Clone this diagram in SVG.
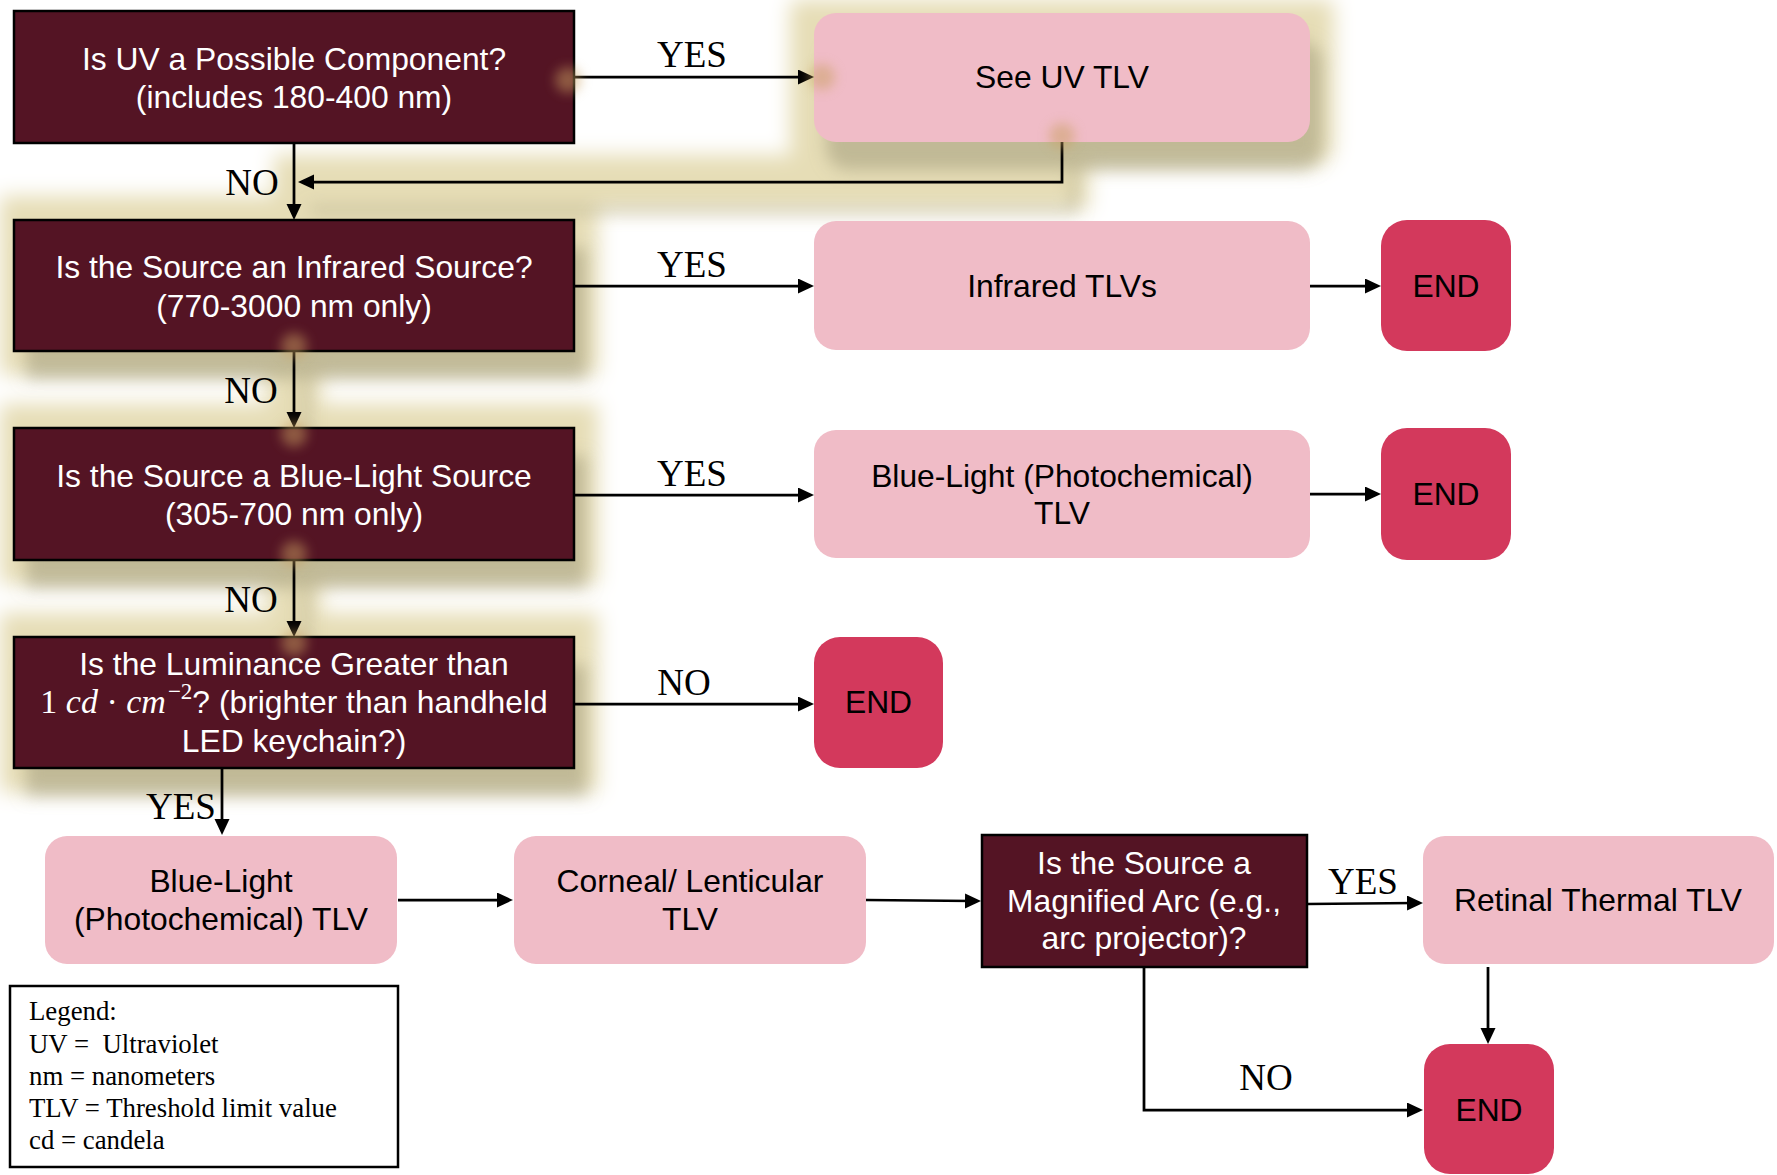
<svg xmlns="http://www.w3.org/2000/svg" width="1777" height="1175" viewBox="0 0 1777 1175">
<defs>
<style>
.dark{fill:#541424;stroke:#000;stroke-width:2.5}
.pink{fill:#F0BCC7}
.end{fill:#D3395C}
.wt{font-family:"Liberation Sans",Arial,sans-serif;font-size:31.8px;fill:#fff;text-anchor:middle}
.bt{font-family:"Liberation Sans",Arial,sans-serif;font-size:31.8px;fill:#000;text-anchor:middle}
.lbl{font-family:"Liberation Serif","Times New Roman",serif;font-size:37px;fill:#000;text-anchor:middle}
.leg{font-family:"Liberation Serif","Times New Roman",serif;font-size:26.8px;fill:#000}
.math{font-family:"Liberation Serif","Times New Roman",serif}
.con{fill:none;stroke:#000;stroke-width:2.75}
</style>
<marker id="arr" markerUnits="userSpaceOnUse" markerWidth="18" markerHeight="16" refX="8" refY="7.5" orient="auto">
<path d="M0,0 L16,7.5 L0,15 Z" fill="#000"/>
</marker>
<filter id="glow" filterUnits="userSpaceOnUse" x="0" y="0" width="1777" height="1175" color-interpolation-filters="sRGB">
<feMorphology in="SourceAlpha" operator="dilate" radius="24" result="d"/>
<feGaussianBlur in="d" stdDeviation="10" result="b"/>
<feFlood flood-color="#E6DDB6" result="c"/>
<feComposite in="c" in2="b" operator="in" result="g"/>
<feOffset in="SourceAlpha" dx="12" dy="28" result="o"/>
<feGaussianBlur in="o" stdDeviation="8" result="ob"/>
<feFlood flood-color="#9C9676" flood-opacity="0.5"/>
<feComposite in2="ob" operator="in" result="s"/>
<feMerge><feMergeNode in="g"/><feMergeNode in="s"/></feMerge>
</filter>
<filter id="spot" x="-100%" y="-100%" width="300%" height="300%">
<feGaussianBlur stdDeviation="6"/>
</filter>
</defs>
<rect x="0" y="0" width="1777" height="1175" fill="#fff"/>

<g id="glow-layer" filter="url(#glow)" fill="#000">
<rect x="814" y="13" width="496" height="129" rx="22"/>
<rect x="14" y="220" width="560" height="131"/>
<rect x="14" y="428" width="560" height="132"/>
<rect x="14" y="637" width="560" height="131"/>
<path d="M1062,142 V182 H298" fill="none" stroke="#000" stroke-width="6"/>
<path d="M294,351 V428 M294,560 V637" fill="none" stroke="#000" stroke-width="6"/>
</g>

<g id="connectors">
<path class="con" d="M574,77 H806" marker-end="url(#arr)"/>
<path class="con" d="M294,143 V212" marker-end="url(#arr)"/>
<path class="con" d="M1062,142 V182 H306" marker-end="url(#arr)"/>
<path class="con" d="M574,286 H806" marker-end="url(#arr)"/>
<path class="con" d="M1310,286 H1373" marker-end="url(#arr)"/>
<path class="con" d="M294,351 V420" marker-end="url(#arr)"/>
<path class="con" d="M574,495 H806" marker-end="url(#arr)"/>
<path class="con" d="M1310,494 H1373" marker-end="url(#arr)"/>
<path class="con" d="M294,560 V629" marker-end="url(#arr)"/>
<path class="con" d="M574,704 H806" marker-end="url(#arr)"/>
<path class="con" d="M222,768 V827" marker-end="url(#arr)"/>
<path class="con" d="M398,900 H505" marker-end="url(#arr)"/>
<path class="con" d="M866,900 L973,901" marker-end="url(#arr)"/>
<path class="con" d="M1307,904 L1415,903" marker-end="url(#arr)"/>
<path class="con" d="M1488,967 V1036" marker-end="url(#arr)"/>
<path class="con" d="M1144,967 V1110 H1415" marker-end="url(#arr)"/>
<text class="lbl" x="692" y="67">YES</text>
<text class="lbl" x="252" y="195">NO</text>
<text class="lbl" x="692" y="277">YES</text>
<text class="lbl" x="251" y="403">NO</text>
<text class="lbl" x="692" y="486">YES</text>
<text class="lbl" x="251" y="612">NO</text>
<text class="lbl" x="684" y="695">NO</text>
<text class="lbl" x="181" y="819">YES</text>
<text class="lbl" x="1363" y="894">YES</text>
<text class="lbl" x="1266" y="1090">NO</text>
</g>

<g id="q-uv">
<rect class="dark" x="14" y="11" width="560" height="132"/>
<text class="wt" x="294" y="70">Is UV a Possible Component?</text>
<text class="wt" x="294" y="108">(includes 180-400 nm)</text>
</g>
<g id="see-uv">
<rect class="pink" x="814" y="13" width="496" height="129" rx="22"/>
<text class="bt" x="1062" y="88">See UV TLV</text>
</g>
<g id="q-ir">
<rect class="dark" x="14" y="220" width="560" height="131"/>
<text class="wt" x="294" y="278">Is the Source an Infrared Source?</text>
<text class="wt" x="294" y="317">(770-3000 nm only)</text>
</g>
<g id="ir-tlv">
<rect class="pink" x="814" y="221" width="496" height="129" rx="22"/>
<text class="bt" x="1062" y="297">Infrared TLVs</text>
</g>
<g id="end1">
<rect class="end" x="1381" y="220" width="130" height="131" rx="26"/>
<text class="bt" x="1446" y="297">END</text>
</g>
<g id="q-blue">
<rect class="dark" x="14" y="428" width="560" height="132"/>
<text class="wt" x="294" y="487">Is the Source a Blue-Light Source</text>
<text class="wt" x="294" y="525">(305-700 nm only)</text>
</g>
<g id="blue-tlv">
<rect class="pink" x="814" y="430" width="496" height="128" rx="22"/>
<text class="bt" x="1062" y="487">Blue-Light (Photochemical)</text>
<text class="bt" x="1062" y="524">TLV</text>
</g>
<g id="end2">
<rect class="end" x="1381" y="428" width="130" height="132" rx="26"/>
<text class="bt" x="1446" y="505">END</text>
</g>
<g id="q-lum">
<rect class="dark" x="14" y="637" width="560" height="131"/>
<text class="wt" x="294" y="675">Is the Luminance Greater than</text>
<text class="wt" x="294" y="713"><tspan class="math" font-size="34">1 </tspan><tspan class="math" font-size="34" font-style="italic">cd</tspan><tspan class="math" font-size="34"> · </tspan><tspan class="math" font-size="34" font-style="italic">cm</tspan><tspan class="math" font-size="23" dx="2" dy="-14">−2</tspan><tspan dy="14">? (brighter than handheld</tspan></text>
<text class="wt" x="294" y="752">LED keychain?)</text>
</g>
<g id="end3">
<rect class="end" x="814" y="637" width="129" height="131" rx="26"/>
<text class="bt" x="878.5" y="713">END</text>
</g>
<g id="blue-tlv-2">
<rect class="pink" x="45" y="836" width="352" height="128" rx="22"/>
<text class="bt" x="221" y="892">Blue-Light</text>
<text class="bt" x="221" y="930">(Photochemical) TLV</text>
</g>
<g id="corneal">
<rect class="pink" x="514" y="836" width="352" height="128" rx="22"/>
<text class="bt" x="690" y="892">Corneal/ Lenticular</text>
<text class="bt" x="690" y="930">TLV</text>
</g>
<g id="q-arc">
<rect class="dark" x="982" y="835" width="325" height="132"/>
<text class="wt" x="1144" y="874">Is the Source a</text>
<text class="wt" x="1144" y="912">Magnified Arc (e.g.,</text>
<text class="wt" x="1144" y="949">arc projector)?</text>
</g>
<g id="retinal">
<rect class="pink" x="1423" y="836" width="351" height="128" rx="22"/>
<text class="bt" x="1598" y="911">Retinal Thermal TLV</text>
</g>
<g id="end4">
<rect class="end" x="1424" y="1044" width="130" height="130" rx="26"/>
<text class="bt" x="1489" y="1121">END</text>
</g>

<g id="spots" filter="url(#spot)" fill="#C9A060" opacity="0.5">
<circle cx="568" cy="80" r="13"/>
<circle cx="822" cy="77" r="13"/>
<circle cx="1062" cy="136" r="13"/>
<circle cx="294" cy="346" r="13"/>
<circle cx="294" cy="434" r="13"/>
<circle cx="294" cy="554" r="13"/>
<circle cx="294" cy="643" r="13"/>
</g>

<g id="legend">
<rect x="10" y="986" width="388" height="181" fill="#fff" stroke="#000" stroke-width="2.5"/>
<text class="leg" x="29" y="1020">Legend:</text>
<text class="leg" x="29" y="1053" xml:space="preserve">UV =  Ultraviolet</text>
<text class="leg" x="29" y="1085">nm = nanometers</text>
<text class="leg" x="29" y="1117">TLV = Threshold limit value</text>
<text class="leg" x="29" y="1149">cd = candela</text>
</g>
</svg>
